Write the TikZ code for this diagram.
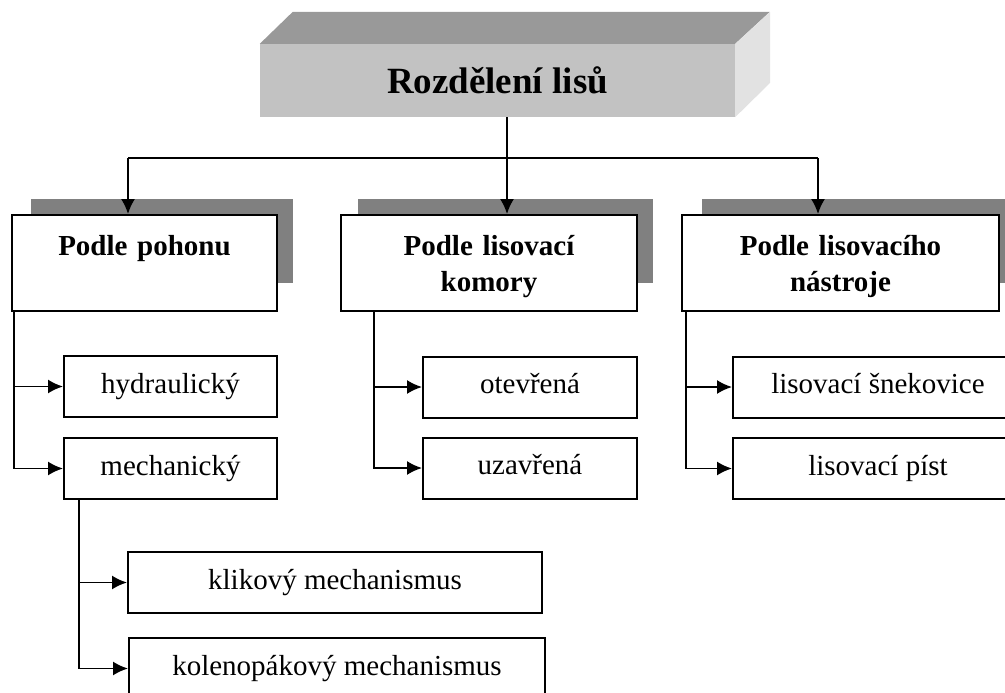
\documentclass[tikz,border=0pt]{standalone}
\usepackage{fontspec}
\setmainfont{Liberation Serif}
\usetikzlibrary{arrows.meta}
\definecolor{titlefront}{HTML}{C2C2C2}
\definecolor{titletop}{HTML}{999999}
\definecolor{titleside}{HTML}{E2E2E2}
\definecolor{boxshadow}{HTML}{808080}
\tikzset{
  catbox/.style={draw,line width=2pt,fill=white,minimum height=96pt,inner sep=0pt},
  cattext/.style={text width=320pt,align=center,inner sep=0pt,anchor=base,
    font=\fontsize{29}{36}\selectfont\bfseries},
  subbox/.style={draw,line width=2pt,fill=white,minimum height=61pt,inner sep=0pt,
    text height=20pt,text depth=7pt,font=\fontsize{29}{35}\selectfont},
  conn/.style={line width=1.8pt,-{Latex[length=15pt,width=14pt]}},
}

\begin{document}
\begin{tikzpicture}[x=1pt,y=-1pt]
    \useasboundingbox (0,0) rectangle (1005,693);
    \clip (0,0) rectangle (1005,693);
    % shadows behind the three groups
    \fill[boxshadow] (31,199) rectangle (293,283);
    \fill[boxshadow] (358,199) rectangle (653,283);
    \fill[boxshadow] (702,199) rectangle (1018,283);
    % title block
    \node[fill=titlefront,minimum width=475pt,minimum height=73pt,inner sep=0pt,
      font=\fontsize{37}{44}\selectfont\bfseries] (title) at (497.5,80.5) {Rozdělení lisů};
    \fill[titletop] (title.north west) -- ++(33,-32) -- ++(477,0) -- (title.north east) -- cycle;
    \fill[titleside] (title.north east) -- ++(35,-32) -- ++(0,71) -- (title.south east) -- cycle;
    % groups
    \node[catbox,minimum width=265pt] (pohon) at (144.5,263) {};
    \node[catbox,minimum width=296pt] (komora) at (489,263) {};
    \node[catbox,minimum width=317pt] (nastroj) at (840.5,263) {};
    \node[cattext] (pohon-t) at ([yshift=-41pt]pohon.north) {Podle pohonu};
    \node[cattext] (komora-t) at ([yshift=-41pt]komora.north) {Podle lisovací\\komory};
    \node[cattext] (nastroj-t) at ([yshift=-41pt]nastroj.north) {Podle lisovacího\\nástroje};
    % items
    \node[subbox,minimum width=213pt] (hydr) at (170.5,386.5) {hydraulický};
    \node[subbox,minimum width=213pt] (mech) at (170.5,468.5) {mechanický};
    \node[subbox,minimum width=214pt] (otev) at (530,387) {otevřená};
    \node[subbox,minimum width=214pt] (uzav) at (530,468) {uzavřená};
    \node[subbox,minimum width=290pt] (snek) at (878,387) {lisovací šnekovice};
    \node[subbox,minimum width=290pt] (pist) at (878,468.5) {lisovací píst};
    \node[subbox,minimum width=414pt] (klik) at (335,582.5) {klikový mechanismus};
    \node[subbox,minimum width=416pt] (kolen) at (337,668.5) {kolenopákový mechanismus};
    % connectors
    \coordinate (hub) at (507,158);
    \coordinate (hubL) at (128,158);
    \coordinate (hubR) at (818,158);
    \draw[line width=1.8pt] (title.south -| hub) -- (hub);
    \draw[line width=1.8pt] (hubL) -- (hubR);
    \draw[conn] (hub) -- (hub |- komora.north);
    \draw[conn] (hubL) -- (hubL |- pohon.north);
    \draw[conn] (hubR) -- (hubR |- nastroj.north);
    \draw[conn] ([xshift=3pt]pohon.south west) |- (hydr.west);
    \draw[conn] ([xshift=3pt]pohon.south west) |- (mech.west);
    \draw[conn] ([xshift=34pt]komora.south west) |- (otev.west);
    \draw[conn] ([xshift=34pt]komora.south west) |- (uzav.west);
    \draw[conn] ([xshift=5pt]nastroj.south west) |- (snek.west);
    \draw[conn] ([xshift=5pt]nastroj.south west) |- (pist.west);
    \draw[conn] ([xshift=16pt]mech.south west) |- (klik.west);
    \draw[conn] ([xshift=16pt]mech.south west) |- (kolen.west);
\end{tikzpicture}
\end{document}
